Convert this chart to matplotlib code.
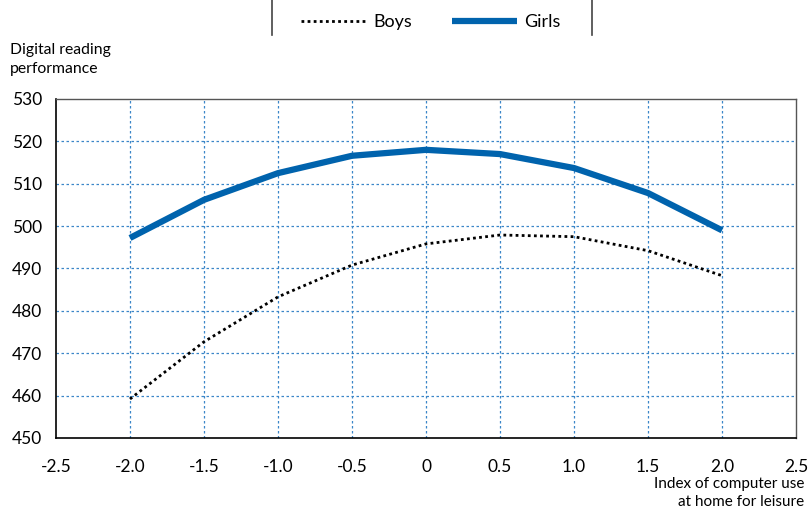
import numpy as np
import matplotlib.pyplot as plt
from matplotlib.lines import Line2D

# data
x_index = [-2.0, -1.5, -1.0, -0.5, 0.0, 0.5, 1.0, 1.5, 2.0]
boys = [459.2, 472.7, 483.3, 490.8, 495.8, 497.9, 497.5, 494.2, 488.3]
girls = [497.2, 506.2, 512.5, 516.6, 518.0, 517.0, 513.7, 507.8, 499.0]
x_ticks = [-2.5, -2.0, -1.5, -1.0, -0.5, 0, 0.5, 1.0, 1.5, 2.0, 2.5]
x_ticklabels = ['-2.5', '-2.0', '-1.5', '-1.0', '-0.5', '0', '0.5', '1.0', '1.5', '2.0', '2.5']
y_ticks = [450, 460, 470, 480, 490, 500, 510, 520, 530]

plt.rcParams['font.family'] = ['Lato', 'DejaVu Sans']

fig = plt.figure(figsize=(8.09, 5.11), dpi=100)
ax = fig.add_axes([0.0692, 0.1429, 0.9148, 0.6634])

blue = '#0063ad'
ax.plot(x_index, boys, color='black', lw=2, linestyle=(0, (1, 1.2)), label='Boys')
ax.plot(x_index, girls, color=blue, lw=4.5, label='Girls', solid_capstyle='butt')

ax.set_xlim(-2.5, 2.5)
ax.set_ylim(450, 530)
ax.set_xticks(x_ticks)
ax.set_xticklabels(x_ticklabels)
ax.set_yticks(y_ticks)
ax.tick_params(length=0, labelsize=12.5, pad=15)
ax.tick_params(axis='y', pad=10)

# grid lines
for v in [-2.0, -1.5, -1.0, -0.5, 0, 0.5, 1.0, 1.5, 2.0]:
    ax.axvline(v, color='#3a86c8', lw=0.9, linestyle=(0, (2, 2)), zorder=0)
for v in y_ticks[1:-1]:
    ax.axhline(v, color='#3a86c8', lw=0.9, linestyle=(0, (2, 2)), zorder=0)

for s in ['left', 'bottom']:
    ax.spines[s].set_color('black')
    ax.spines[s].set_linewidth(1.2)
for s in ['top', 'right']:
    ax.spines[s].set_color('#555555')
    ax.spines[s].set_linewidth(1.0)

fig.text(10/809, 1 - 43/511, 'Digital reading\nperformance', ha='left', va='top',
         fontsize=11.3, linespacing=1.45)
fig.text(804/809, 1 - 477/511, 'Index of computer use\nat home for leisure', ha='right', va='top',
         fontsize=11, linespacing=1.35)

# legend at top with separators
leg = fig.legend(loc='center', bbox_to_anchor=(431/809, 1 - 22/511), ncol=2, frameon=False,
                 fontsize=13, handlelength=3.6, columnspacing=2.2, handletextpad=0.4)
fig.add_artist(Line2D([272/809, 272/809], [1 - 35/511, 1.0], color='#444444', lw=1.2))
fig.add_artist(Line2D([592/809, 592/809], [1 - 35/511, 1.0], color='#444444', lw=1.2))

fig.savefig('out.png', dpi=100)
